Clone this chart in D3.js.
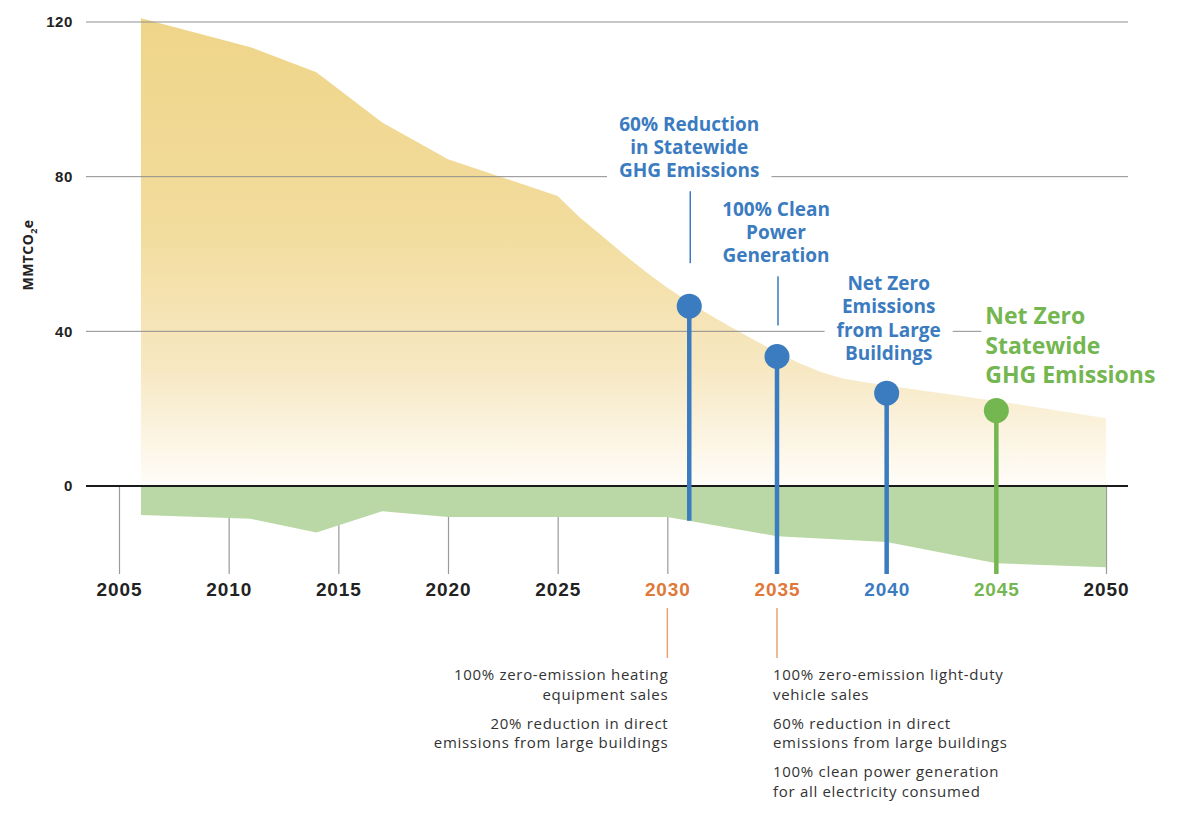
<!DOCTYPE html>
<html>
<head>
<meta charset="utf-8">
<script src="https://cdn.jsdelivr.net/npm/d3@7.9.0/dist/d3.min.js"></script>
<style>
  html, body { margin: 0; padding: 0; background: #fff; }
  svg { display: block; font-family: "Open Sans", "DejaVu Sans", sans-serif; }
</style>
</head>
<body>
<svg id="chart" width="1200" height="830"></svg>
<script>
// ---- data ----
// gross statewide emissions (MMTCO2e)
const grossYears = [2006, 2011, 2014, 2017, 2020, 2025, 2026, 2027, 2028, 2029, 2030, 2031, 2032, 2033, 2034, 2035, 2036, 2037, 2038, 2039, 2040, 2045, 2050];
const grossValues = [121, 113.5, 107, 94, 84.5, 75, 69.5, 64.8, 60, 55.5, 51.3, 47.5, 44, 40.8, 37.6, 34.6, 31.8, 29.5, 27.8, 26.8, 26, 22, 17.5];

// carbon sinks (negative)
const sinkYears = [2006, 2011, 2014, 2017, 2020, 2030, 2035, 2040, 2045, 2050];
const sinkValues = [-7.5, -8.5, -12, -6.5, -8, -8, -13, -14.5, -20, -21];

// milestones
const milestoneYears = [2031, 2035, 2040, 2045];
const milestoneValues = [46.5, 33.5, 24, 19.5];
const milestoneStemBase = [-9, null, null, null];   // null = runs to the tick bottom
const milestoneLabels = [
  ['60% Reduction', 'in Statewide', 'GHG Emissions'],
  ['100% Clean', 'Power', 'Generation'],
  ['Net Zero', 'Emissions', 'from Large', 'Buildings'],
  ['Net Zero', 'Statewide', 'GHG Emissions']
];

// axes
const xTicks = [2005, 2010, 2015, 2020, 2025, 2030, 2035, 2040, 2045, 2050];
const yTicks = [0, 40, 80, 120];

// notes below the axis
const noteYears = [2030, 2035];
const notes = [
  [['100% zero-emission heating', 'equipment sales'],
   ['20% reduction in direct', 'emissions from large buildings']],
  [['100% zero-emission light-duty', 'vehicle sales'],
   ['60% reduction in direct', 'emissions from large buildings'],
   ['100% clean power generation', 'for all electricity consumed']]
];

// ---- styles / layout ----
const BLUE = '#3b7bbf';
const GREEN = '#74b650';
const ORANGE = '#e0783a';
const tickColor = { 2030: ORANGE, 2035: ORANGE, 2040: BLUE, 2045: GREEN };
const milestoneColor = [BLUE, BLUE, BLUE, GREEN];
// label layout: anchor, x offset from the stem, first-line y, font size, line height
const labelLayout = [
  { anchor: 'middle', dx: 0, y: 124, size: 19, lh: 23.3, connectorGap: 43 },
  { anchor: 'middle', dx: -1, y: 209, size: 19, lh: 23.3, connectorGap: 31 },
  { anchor: 'middle', dx: 2, y: 283, size: 19, lh: 23.5, connectorGap: null },
  { anchor: 'start', dx: -11, y: 316, size: 23, lh: 29.5, connectorGap: null }
];

const svg = d3.select('#chart');

const x = d3.scaleLinear().domain([2005, 2050]).range([119, 1106]);
const y = d3.scaleLinear().domain([0, 120]).range([486, 22]);

const gridLeft = 86, gridRight = 1128;
const tickLen = 88;

// gradient for the emissions area
const defs = svg.append('defs');
const grad = defs.append('linearGradient')
  .attr('id', 'grossGrad')
  .attr('gradientUnits', 'userSpaceOnUse')
  .attr('x1', 0).attr('x2', 0)
  .attr('y1', y(121)).attr('y2', y(0));
grad.append('stop').attr('offset', '0%').attr('stop-color', '#efd589');
grad.append('stop').attr('offset', '45%').attr('stop-color', '#f2dc9d');
grad.append('stop').attr('offset', '75%').attr('stop-color', '#f7e8c3');
grad.append('stop').attr('offset', '100%').attr('stop-color', '#fffdf9');

// x axis (ticks sit under the sink area)
const xAxis = d3.axisBottom(x)
  .tickValues(xTicks)
  .tickSize(tickLen)
  .tickPadding(9)
  .tickFormat(d3.format('d'));

const xg = svg.append('g')
  .attr('transform', `translate(0,${y(0)})`)
  .call(xAxis);
xg.select('.domain').remove();
xg.selectAll('.tick line').attr('stroke', '#9a9a9a').attr('stroke-width', 1.2);
xg.selectAll('.tick text')
  .attr('fill', d => tickColor[d] || '#222')
  .style('font-size', '19px')
  .style('font-weight', 700)
  .style('letter-spacing', '0.9px');

// areas
const grossData = grossYears.map((yr, i) => ({ year: yr, value: grossValues[i] }));
const sinkData = sinkYears.map((yr, i) => ({ year: yr, value: sinkValues[i] }));

const area = d3.area()
  .x(d => x(d.year))
  .y0(y(0))
  .y1(d => y(d.value))
  .curve(d3.curveLinear);

svg.append('path')
  .datum(grossData)
  .attr('d', area)
  .attr('fill', 'url(#grossGrad)');

svg.append('path')
  .datum(sinkData)
  .attr('d', area)
  .attr('fill', '#bad8a6');

// gridlines
const gridG = svg.append('g');
gridG.selectAll('line')
  .data(yTicks.filter(t => t > 0))
  .join('line')
  .attr('x1', gridLeft).attr('x2', gridRight)
  .attr('y1', d => y(d)).attr('y2', d => y(d))
  .attr('stroke', '#8f8f8f')
  .attr('stroke-width', 1);

// cover layer for gaps in gridlines behind labels
const gapG = svg.append('g');

// y axis labels
const yAxis = d3.axisLeft(y).tickValues(yTicks).tickSize(0).tickPadding(13);
const yg = svg.append('g')
  .attr('transform', `translate(${gridLeft},0)`)
  .call(yAxis);
yg.select('.domain').remove();
yg.selectAll('.tick text')
  .attr('fill', '#222')
  .style('font-size', '15px')
  .style('font-weight', 700)
  .style('letter-spacing', '0.6px');

// y axis title
const yTitle = svg.append('text')
  .attr('transform', 'translate(33,255) rotate(-90)')
  .attr('text-anchor', 'middle')
  .attr('fill', '#222')
  .style('font-size', '14px')
  .style('font-weight', 700)
  .style('letter-spacing', '0.4px');
yTitle.append('tspan').text('MMTCO');
yTitle.append('tspan').text('2').style('font-size', '9px').attr('dy', 4);
yTitle.append('tspan').text('e').attr('dy', -4);

// zero line
svg.append('line')
  .attr('x1', gridLeft).attr('x2', gridRight)
  .attr('y1', y(0)).attr('y2', y(0))
  .attr('stroke', '#1a1a1a')
  .attr('stroke-width', 2);

// milestone stems and balls
const msG = svg.append('g');
milestoneYears.forEach((yr, i) => {
  const cx = x(yr);
  const base = milestoneStemBase[i] === null ? y(0) + tickLen : y(milestoneStemBase[i]);
  msG.append('line')
    .attr('x1', cx).attr('x2', cx)
    .attr('y1', base).attr('y2', y(milestoneValues[i]))
    .attr('stroke', milestoneColor[i])
    .attr('stroke-width', 4.5);
  msG.append('circle')
    .attr('cx', cx).attr('cy', y(milestoneValues[i]))
    .attr('r', 12.5)
    .attr('fill', milestoneColor[i]);
});

// milestone labels
milestoneYears.forEach((yr, i) => {
  const L = labelLayout[i];
  const lx = x(yr) + L.dx;
  const t = svg.append('text')
    .attr('text-anchor', L.anchor)
    .attr('fill', milestoneColor[i])
    .style('font-size', L.size + 'px')
    .style('font-weight', 700);
  milestoneLabels[i].forEach((line, k) => {
    t.append('tspan')
      .attr('x', lx)
      .attr('y', L.y + k * L.lh)
      .attr('dy', '0.35em')
      .text(line);
  });
  const bb = t.node().getBBox();
  const pad = L.anchor === 'start' ? 4 : 12;
  yTicks.filter(v => v > 0).forEach(v => {
    const gy = y(v);
    if (gy > bb.y && gy < bb.y + bb.height) {
      gapG.append('rect')
        .attr('x', bb.x - pad).attr('width', bb.width + pad * 2)
        .attr('y', gy - 2).attr('height', 4)
        .attr('fill', '#fff');
    }
  });
  if (L.connectorGap !== null) {
    svg.append('line')
      .attr('x1', x(yr) + 1).attr('x2', x(yr) + 1)
      .attr('y1', bb.y + bb.height + 8)
      .attr('y2', y(milestoneValues[i]) - L.connectorGap)
      .attr('stroke', milestoneColor[i])
      .attr('stroke-width', 1.5);
  }
});

// notes under 2030 and 2035
noteYears.forEach((yr, i) => {
  const nx = x(yr);
  svg.append('line')
    .attr('x1', nx).attr('x2', nx)
    .attr('y1', 608).attr('y2', 658)
    .attr('stroke', '#eaa273')
    .attr('stroke-width', 1.5);
  const left = i === 0;
  let ty = 675;
  notes[i].forEach(par => {
    par.forEach(line => {
      svg.append('text')
        .attr('x', left ? nx + 1 : nx - 4)
        .attr('y', ty)
        .attr('dy', '0.35em')
        .attr('text-anchor', left ? 'end' : 'start')
        .attr('fill', '#333')
        .style('font-size', '15px')
        .style('letter-spacing', '0.7px')
        .text(line);
      ty += 19.5;
    });
    ty += 9.5;
  });
});
</script>
</body>
</html>
